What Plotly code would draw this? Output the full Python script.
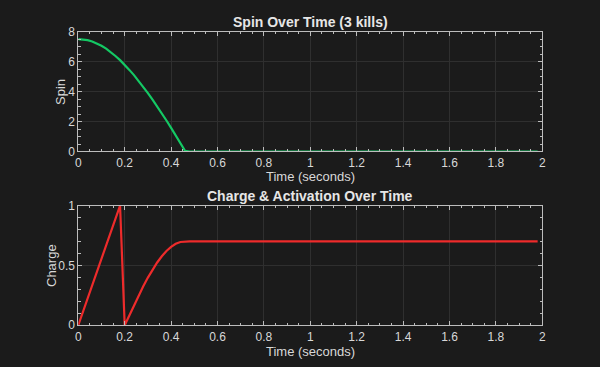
import plotly.graph_objects as go

time_s = [0.00, 0.02, 0.04, 0.06, 0.08, 0.10, 0.12, 0.14, 0.16, 0.18,
          0.20, 0.22, 0.24, 0.26, 0.28, 0.30, 0.32, 0.34, 0.36, 0.38,
          0.40, 0.42, 0.44, 0.46, 0.48, 1.98]
spin = [7.50, 7.48, 7.44, 7.35, 7.22, 7.06, 6.87, 6.65, 6.38, 6.10,
        5.80, 5.45, 5.10, 4.72, 4.32, 3.90, 3.46, 3.02, 2.55, 2.07,
        1.58, 1.08, 0.57, 0.05, 0.00, 0.00]
charge = [0.000, 0.111, 0.222, 0.333, 0.444, 0.556, 0.667, 0.778, 0.889, 1.000,
          0.000, 0.084, 0.168, 0.248, 0.325, 0.398, 0.464, 0.524, 0.576, 0.620,
          0.654, 0.680, 0.695, 0.700, 0.700, 0.700]

title_top = "Spin Over Time (3 kills)"
title_bottom = "Charge & Activation Over Time"
x_label = "Time (seconds)"
y_label_top = "Spin"
y_label_bottom = "Charge"
x_ticks = [0, 0.2, 0.4, 0.6, 0.8, 1, 1.2, 1.4, 1.6, 1.8, 2]

BG = "#1b1b1b"
AX = "#bdbdbd"
TXT = "#d8d8d8"
GRID = "#2f2f2f"
FONT = "Liberation Sans, Arial, sans-serif"
H = 367.0

fig = go.Figure()
fig.add_trace(go.Scatter(x=time_s, y=spin, mode="lines",
                         line=dict(color="#14c864", width=2.2),
                         xaxis="x", yaxis="y", showlegend=False))
fig.add_trace(go.Scatter(x=time_s, y=charge, mode="lines",
                         line=dict(color="#ee2b2b", width=2.2),
                         xaxis="x2", yaxis="y2", showlegend=False))

def xax(domain, anchor):
    return dict(domain=domain, anchor=anchor, range=[0, 2], tickvals=x_ticks,
                ticktext=[f"{v:g}" for v in x_ticks], automargin=False,
                showline=True, linecolor=AX, linewidth=1, mirror="allticks",
                ticks="inside", ticklen=4, tickcolor=AX, tickwidth=1,
                minor=dict(dtick=0.05, ticks="inside", ticklen=2.5, tickcolor=AX, showgrid=False),
                showgrid=True, gridcolor=GRID, gridwidth=1, zeroline=False,
                tickfont=dict(color=TXT, size=12, family=FONT))

def yax(domain, anchor, rng, dtick, mdtick):
    return dict(domain=domain, anchor=anchor, range=rng, dtick=dtick, tick0=0, automargin=False,
                showline=True, linecolor=AX, linewidth=1, mirror="allticks",
                ticks="inside", ticklen=4, tickcolor=AX, tickwidth=1,
                minor=dict(dtick=mdtick, ticks="inside", ticklen=2.5, tickcolor=AX, showgrid=False),
                showgrid=True, gridcolor=GRID, gridwidth=1, zeroline=False,
                tickfont=dict(color=TXT, size=12, family=FONT))

def label(text, xpx, ypx, size=13, bold=False, angle=0, color=TXT):
    return dict(text=f"<b>{text}</b>" if bold else text, x=xpx / 600.0, y=1 - ypx / H,
                xref="paper", yref="paper", showarrow=False, textangle=angle,
                font=dict(color=color, size=size, family=FONT),
                xanchor="center", yanchor="middle")

fig.update_layout(
    width=600, height=367,
    paper_bgcolor=BG, plot_bgcolor=BG,
    margin=dict(l=0, r=0, t=0, b=0, autoexpand=False),
    xaxis=xax([0.1305, 0.9038], "y"),
    yaxis=yax([0.5872, 0.9136], "x", [0, 8], 2, 0.5),
    xaxis2=xax([0.1305, 0.9038], "y2"),
    yaxis2=yax([0.1139, 0.4400], "x2", [0, 1], 0.5, 0.1),
    annotations=[
        label(title_top, 310, 21.5, size=14, bold=True, color="#e6e6e6"),
        label(title_bottom, 310, 195.5, size=14, bold=True, color="#e6e6e6"),
        label(x_label, 310, 176, size=13),
        label(x_label, 310, 351, size=13),
        label(y_label_top, 61, 92, size=13, angle=-90),
        label(y_label_bottom, 51, 266, size=13, angle=-90),
    ],
)

fig.write_html("out.html", config={"displayModeBar": False},
               post_script="document.body.style.margin='0';document.body.style.background='#1b1b1b';")
